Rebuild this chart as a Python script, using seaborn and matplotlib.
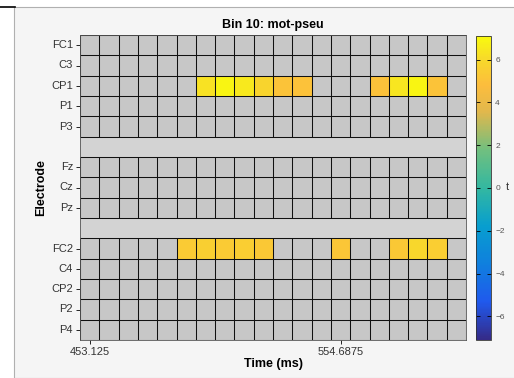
import numpy as np
import pandas as pd
import matplotlib
matplotlib.use('Agg')
import matplotlib.pyplot as plt
from matplotlib.colors import LinearSegmentedColormap, ListedColormap
from matplotlib.patches import Rectangle
from matplotlib.lines import Line2D
import seaborn as sns

nan = np.nan

# electrode groups (a blank row separates each group)
group1 = ['FC1', 'C3', 'CP1', 'P1', 'P3']
group2 = ['Fz', 'Cz', 'Pz']
group3 = ['FC2', 'C4', 'CP2', 'P2', 'P4']

times = [453.125, 460.9375, 468.75, 476.5625, 484.375, 492.1875, 500.0,
         507.8125, 515.625, 523.4375, 531.25, 539.0625, 546.875, 554.6875,
         562.5, 570.3125, 578.125, 585.9375, 593.75, 601.5625]
time_ticks = [453.125, 554.6875]

# t values of significant cells, nan = not significant
cp1_t = [nan, nan, nan, nan, nan, nan, 6.3, 6.9, 6.5, 5.8,
         5.1, 5.0, nan, nan, nan, 5.0, 6.4, 6.9, 5.1, nan]
fc2_t = [nan, nan, nan, nan, nan, 5.4, 5.6, 5.4, 5.5, 5.3,
         nan, nan, nan, 5.2, nan, nan, 5.3, 5.9, 5.5, nan]
significant = {'CP1': cp1_t, 'FC2': fc2_t}

cbar_ticks = [-6, -4, -2, 0, 2, 4, 6]

# parula-like colormap
parula = LinearSegmentedColormap.from_list('parula', [
    (0.00, (0.208, 0.166, 0.529)),
    (0.125, (0.125, 0.350, 0.930)),
    (0.25, (0.060, 0.500, 0.870)),
    (0.375, (0.030, 0.620, 0.810)),
    (0.50, (0.200, 0.720, 0.630)),
    (0.625, (0.440, 0.750, 0.500)),
    (0.75, (0.880, 0.720, 0.300)),
    (0.84, (0.990, 0.740, 0.240)),
    (0.93, (0.970, 0.860, 0.160)),
    (1.00, (0.976, 0.983, 0.054)),
])

plt.rcParams['font.family'] = ['Liberation Sans', 'DejaVu Sans']

rows = group1 + [''] + group2 + [''] + group3
base = pd.DataFrame(
    [[nan] * len(times) if r == '' else [0.0] * len(times) for r in rows],
    index=rows, columns=times)
tvals = pd.DataFrame(
    [significant.get(r, [nan] * len(times)) for r in rows],
    index=rows, columns=times)

W, H = 514, 378
fig = plt.figure(figsize=(W / 100, H / 100), dpi=100)
fig.patch.set_facecolor('white')
fig.add_artist(Rectangle((14 / W, 0), 1, 1 - 7 / H, transform=fig.transFigure,
                         facecolor='#f5f5f5', edgecolor='#b0b0b0', lw=0.8, zorder=-5))
fig.add_artist(Line2D([0, 15 / W], [1 - 7 / H, 1 - 7 / H], color='black', lw=1.2))

ax = fig.add_axes([80 / W, 1 - 340 / H, 386 / W, 305 / H])
cax = fig.add_axes([476 / W, 1 - 340 / H, 15 / W, 304 / H])
ax.set_facecolor('#d3d3d3')

sns.heatmap(base, mask=base.isna(), cmap=ListedColormap(['#c7c7c7']),
            cbar=False, ax=ax)
sns.heatmap(tvals, mask=tvals.isna(), cmap=parula, vmin=-7.1, vmax=7.1,
            ax=ax, cbar_ax=cax, cbar_kws={'ticks': cbar_ticks})
cbar = ax.collections[-1].colorbar

# cell grid, only over the electrode rows
start = 0
for grp in [group1, group2, group3]:
    stop = start + len(grp)
    ax.vlines(range(len(times) + 1), start, stop, color='#111111', lw=0.75)
    ax.hlines(range(start, stop + 1), 0, len(times), color='#111111', lw=0.75)
    start = stop + 1

# axis ticks
ypos = [i + 0.5 for i, r in enumerate(rows) if r != '']
ax.set_yticks(ypos)
ax.set_yticklabels([r for r in rows if r != ''], rotation=0, fontsize=8, color='#333333')
ax.set_xticks([times.index(t) + 0.5 for t in time_ticks])
ax.set_xticklabels([str(t) for t in time_ticks], rotation=0, fontsize=8, color='#333333')
ax.tick_params(axis='both', length=3, width=0.6, pad=2)
for s in ax.spines.values():
    s.set_visible(True)
    s.set_color('#555555')
    s.set_linewidth(0.6)

ax.set_title('Bin 10: mot-pseu', fontsize=9, fontweight='bold', pad=5)
ax.set_xlabel('Time (ms)', fontsize=9, fontweight='bold', labelpad=1)
ax.set_ylabel('Electrode', fontsize=9, fontweight='bold', labelpad=3)

cax.tick_params(direction='in', left=True, right=True, labelright=True,
                length=3, width=0.6, labelsize=6, labelcolor='#555555', pad=3)
cbar.outline.set_edgecolor('#333333')
cbar.outline.set_linewidth(0.6)
fig.text(506 / W, 1 - 187 / H, 't', fontsize=8, color='#333333', va='center')

fig.savefig('out.png', dpi=100)
